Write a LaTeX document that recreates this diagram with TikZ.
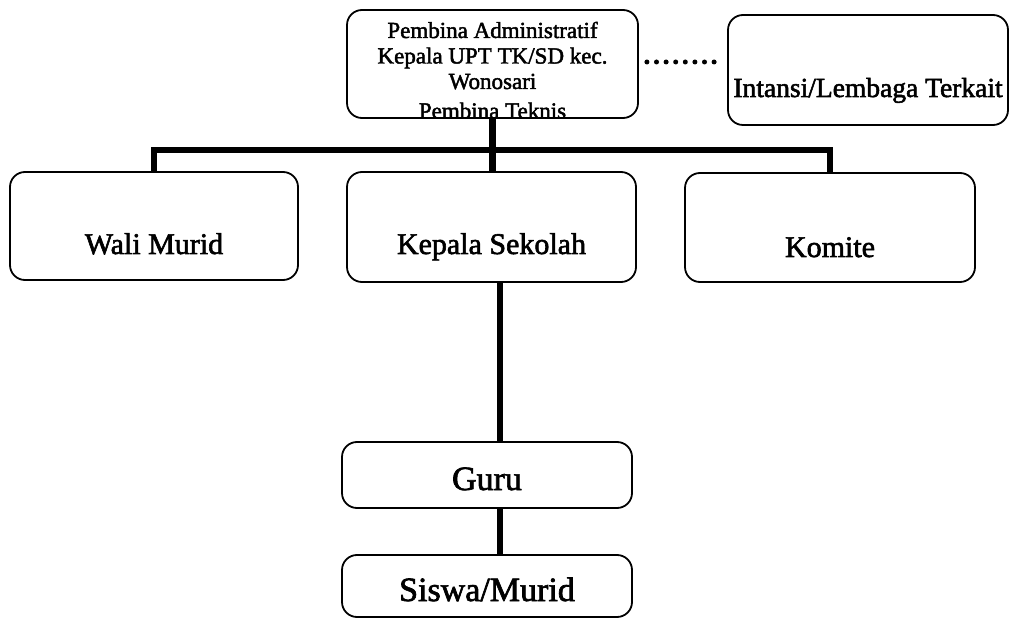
\documentclass[tikz,border=0pt]{standalone}
\usepackage{fontspec}
\setmainfont{Liberation Serif}[FakeBold=2]
\begin{document}
\begin{tikzpicture}[x=1pt,y=-1pt,
  box/.style={draw, line width=1.8pt, rounded corners=15pt, inner sep=0pt, anchor=base, align=center},
  link/.style={line width=6pt, line join=miter},
  ftop/.style={font=\fontsize{23}{25.5}\selectfont, anchor=base, inner sep=0pt},
  fmid/.style={font=\fontsize{30}{36}\selectfont},
  fbig/.style={font=\fontsize{34}{40}\selectfont},
  finst/.style={font=\fontsize{27.5}{33}\selectfont},
]
\useasboundingbox (0,0) rectangle (1012,620);

% top box text (last line cut by the border)
\begin{scope}
\clip (349,12) rectangle (636,117);
\node[ftop] (t1) at (492.5,38) {Pembina Administratif};
\node[ftop] (t2) at (492.5,63.5) {Kepala UPT TK/SD kec.};
\node[ftop] (t3) at (492.5,89) {Wonosari};
\node[ftop] (t4) at (492.5,118.5) {Pembina Teknis};
\end{scope}
\node[box, anchor=center, minimum width=291pt, minimum height=108pt] (top) at (492.5,64) {};

\node[box, finst, minimum width=280pt, text height=82pt, text depth=28pt] (inst) at (868,97) {Intansi/Lembaga Terkait};

\node[box, fmid, minimum width=288pt, text height=82pt, text depth=26pt] (wali) at (154,254) {Wali Murid};
\node[box, fmid, minimum width=289pt, text height=82pt, text depth=28pt] (kepala) at (491.5,254) {Kepala Sekolah};
\node[box, fmid, minimum width=290pt, text height=84pt, text depth=25pt] (komite) at (830,257) {Komite};

\node[box, fbig, minimum width=290pt, text height=48pt, text depth=18pt] (guru) at (487,490) {Guru};
\node[box, fbig, minimum width=290pt, text height=46pt, text depth=16pt] (siswa) at (487,601) {Siswa/Murid};

\coordinate (bar) at (492,150);
\coordinate (gx) at (500,0);
\coordinate (dots) at (0,62);

\draw[link, line width=7pt] (top.south) -- (top.south |- kepala.north);
\draw[link] (wali.north) -- (wali.north |- bar) -- (komite.north |- bar) -- (komite.north);
\draw[link] (kepala.south -| gx) -- (guru.north -| gx);
\draw[link] (guru.south -| gx) -- (siswa.north -| gx);
\draw[line width=5pt, line cap=round, dash pattern=on 0pt off 9.6pt,
      shorten <=8pt, shorten >=11pt] (top.east |- dots) -- (inst.west |- dots);
\end{tikzpicture}
\end{document}
